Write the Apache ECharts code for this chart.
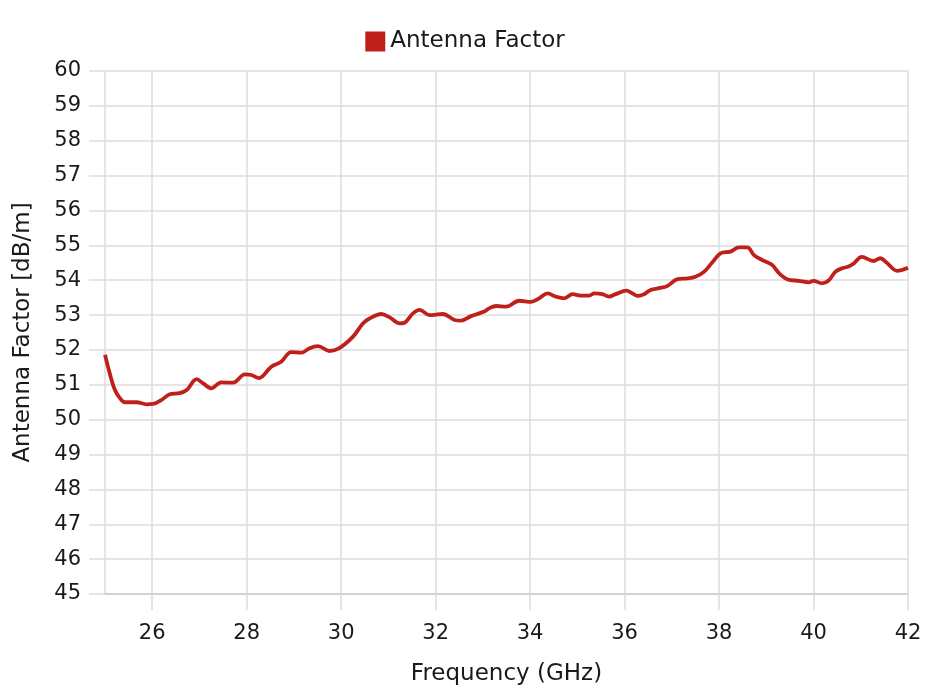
<!DOCTYPE html>
<html>
<head>
<meta charset="utf-8">
<script src="https://cdn.jsdelivr.net/npm/echarts@6/dist/echarts.min.js"></script>
<style>html,body{margin:0;padding:0;background:#fff}#c{width:930px;height:696px}</style>
</head>
<body>
<div id="c"></div>
<script>
const seriesName = 'Antenna Factor';
const frequencyGHz = [25.0,25.1,25.21,25.32,25.42,25.67,25.88,26.02,26.2,26.37,26.58,26.73,26.94,27.08,27.25,27.46,27.71,27.96,28.1,28.26,28.52,28.73,28.94,29.16,29.33,29.51,29.75,29.96,30.25,30.46,30.6,30.85,31.02,31.24,31.34,31.52,31.66,31.87,32.15,32.4,32.54,32.75,33.03,33.14,33.28,33.49,33.77,34.02,34.19,34.37,34.54,34.72,34.9,35.07,35.25,35.36,35.53,35.67,35.81,36.04,36.17,36.27,36.41,36.55,36.73,36.9,37.12,37.33,37.5,37.68,37.85,38.03,38.24,38.42,38.6,38.74,38.91,39.12,39.27,39.44,39.69,39.9,40.0,40.18,40.32,40.46,40.6,40.74,40.85,41.02,41.27,41.41,41.55,41.77,42.0];
const antennaFactor = [51.86,51.33,50.85,50.61,50.5,50.5,50.44,50.45,50.57,50.73,50.76,50.85,51.16,51.04,50.9,51.07,51.06,51.3,51.28,51.19,51.52,51.66,51.94,51.92,52.05,52.11,51.97,52.05,52.38,52.76,52.9,53.03,52.94,52.76,52.78,53.05,53.15,53.0,53.03,52.86,52.84,52.97,53.1,53.2,53.26,53.24,53.41,53.38,53.48,53.62,53.53,53.48,53.6,53.56,53.56,53.62,53.6,53.53,53.6,53.7,53.62,53.55,53.6,53.72,53.77,53.83,54.03,54.05,54.1,54.24,54.5,54.77,54.82,54.94,54.94,54.72,54.58,54.44,54.2,54.03,53.98,53.94,53.98,53.91,53.99,54.24,54.34,54.39,54.48,54.67,54.55,54.63,54.5,54.27,54.36];
const xTickValues = [26,28,30,32,34,36,38,40,42];
const xAxisTitle = 'Frequency (GHz)';
const yAxisTitle = 'Antenna Factor [dB/m]';

const FONT = 'DejaVu Sans';
const gridColor = '#dddddd';
const textColor = '#1a1a1a';
const chart = echarts.init(document.getElementById('c'), null, {renderer:'canvas'});
chart.setOption({
  animation: false,
  textStyle: {fontFamily: FONT},
  legend: {
    top: 25, left: 'center',
    itemWidth: 20, itemHeight: 20, itemGap: 10,
    icon: 'rect',
    textStyle: {fontFamily: FONT, fontSize: 23, color: textColor},
    data: [seriesName]
  },
  grid: {left: 105, right: 22, top: 71, bottom: 102, containLabel: false},
  xAxis: {
    type: 'value', min: 25, max: 42,
    name: xAxisTitle, nameLocation: 'middle', nameGap: 69,
    nameTextStyle: {fontFamily: FONT, fontSize: 23, color: textColor},
    axisLine: {show: true, lineStyle: {color: '#cccccc', width: 1.5}},
    axisTick: {show: true, length: 16, customValues: xTickValues, lineStyle: {color: gridColor, width: 1.5}},
    axisLabel: {customValues: xTickValues, margin: 29, fontFamily: FONT, fontSize: 21, color: textColor},
    splitLine: {show: true, lineStyle: {color: gridColor, width: 1.5}}
  },
  yAxis: {
    type: 'value', min: 45, max: 60, interval: 1,
    name: yAxisTitle, nameLocation: 'middle', nameGap: 70, nameRotate: 90,
    nameTextStyle: {fontFamily: FONT, fontSize: 23, color: textColor},
    axisLine: {show: true, onZero: false, lineStyle: {color: gridColor, width: 1.5}},
    axisTick: {show: true, length: 16, lineStyle: {color: gridColor, width: 1.5}},
    axisLabel: {margin: 24, fontFamily: FONT, fontSize: 21, color: textColor},
    splitLine: {show: true, lineStyle: {color: gridColor, width: 1.5}}
  },
  series: [{
    name: seriesName,
    type: 'line',
    data: frequencyGHz.map((f, i) => [f, antennaFactor[i]]),
    showSymbol: false,
    smooth: 0.35,
    color: '#c0201c',
    lineStyle: {color: '#c0201c', width: 3.8}
  }]
});
</script>
</body>
</html>
